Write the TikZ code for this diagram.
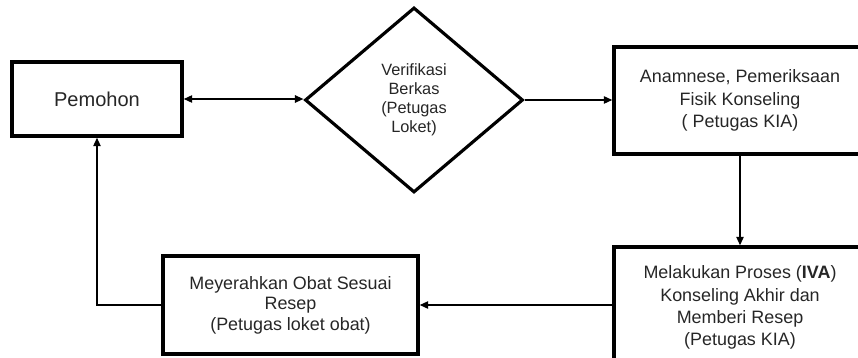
\documentclass[tikz,border=0pt]{standalone}
\usepackage{fontspec}
\setmainfont{Liberation Sans}
\usetikzlibrary{shapes.geometric,arrows.meta}

\begin{document}
\begin{tikzpicture}[
        box/.style={rectangle, draw, line width=3.3pt, align=center, text=black!85,
          inner sep=0pt, font=\fontsize{17}{21}\selectfont},
        dec/.style={diamond, draw, line width=3pt, align=center, inner sep=0pt,
          text=black!85, font=\fontsize{15.5}{18}\selectfont},
        arr/.style={line width=1.3pt, -{Triangle[length=8pt,width=7pt]}},
        darr/.style={arr, {Triangle[length=8pt,width=7pt]}-{Triangle[length=8pt,width=7pt]}}]

      \clip (0,0) rectangle (28.6,-11.933);

      % upper row
      \node[box, minimum width=5.667cm, minimum height=2.467cm,
        font=\fontsize{19}{23}\selectfont] (pem) at (3.233,-3.3) {Pemohon};
      \node[dec, minimum width=7.267cm, minimum height=6.167cm] (ver) at (13.8,-3.333)
        {Verifikasi\\Berkas\\(Petugas\\Loket)};
      \node[box, minimum width=8.4cm, minimum height=3.567cm] (ana) at (24.667,-3.35)
        {Anamnese, Pemeriksaan\\Fisik Konseling\\( Petugas KIA)};

      % lower row
      \node[box, minimum width=8.4cm, minimum height=4.033cm] (iva) at (24.667,-10.25)
        {Melakukan Proses (\textbf{IVA})\\Konseling Akhir dan\\Memberi Resep\\(Petugas KIA)};
      \node[box, minimum width=8.5cm, minimum height=3.267cm,
        font=\fontsize{17}{19.5}\selectfont] (obt) at (9.683,-10.167)
        {Meyerahkan Obat Sesuai\\Resep\\(Petugas loket obat)};

      % connectors
      \draw[darr] (pem.east) -- (pem.east -| ver.west);
      \draw[arr] (ver.east) -- (ver.east -| ana.west);
      \draw[arr] (ana.south) -- (iva.north);
      \draw[arr] (obt.east -| iva.west) -- (obt.east);
      \draw[arr] (obt.west) -| (pem.south);
    \end{tikzpicture}
\end{document}
